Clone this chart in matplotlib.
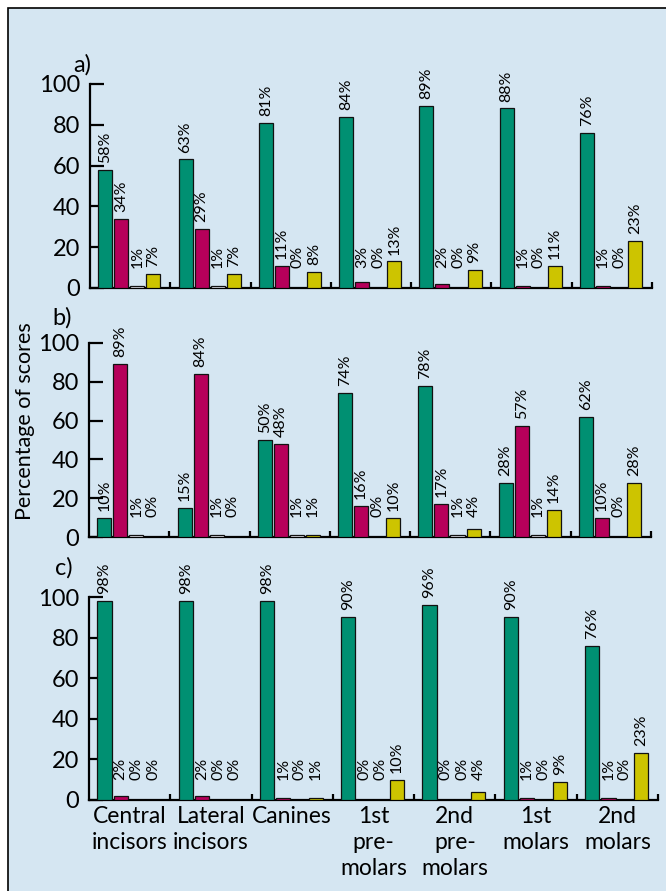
import matplotlib
matplotlib.use("Agg")
import matplotlib.pyplot as plt
from matplotlib.patches import Rectangle
import numpy as np

plt.rcParams['font.family'] = ['Lato', 'DejaVu Sans']

categories = ["Central\nincisors", "Lateral\nincisors", "Canines", "1st\npre-\nmolars",
              "2nd\npre-\nmolars", "1st\nmolars", "2nd\nmolars"]
panel_names = ["a)", "b)", "c)"]

# a) green, magenta, white, yellow
a_green = [58, 63, 81, 84, 89, 88, 76]
a_magenta = [34, 29, 11, 3, 2, 1, 1]
a_white = [1, 1, 0, 0, 0, 0, 0]
a_yellow = [7, 7, 8, 13, 9, 11, 23]

b_green = [10, 15, 50, 74, 78, 28, 62]
b_magenta = [89, 84, 48, 16, 17, 57, 10]
b_white = [1, 1, 1, 0, 1, 1, 0]
b_yellow = [0, 0, 1, 10, 4, 14, 28]

c_green = [98, 98, 98, 90, 96, 90, 76]
c_magenta = [2, 2, 1, 0, 0, 1, 1]
c_white = [0, 0, 0, 0, 0, 0, 0]
c_yellow = [0, 0, 1, 10, 4, 9, 23]

panels = [
    [a_green, a_magenta, a_white, a_yellow],
    [b_green, b_magenta, b_white, b_yellow],
    [c_green, c_magenta, c_white, c_yellow],
]

colors = ["#009072", "#b6005a", "#e8e8f0", "#cdc400"]
bg = "#d5e6f2"

W, H = 666, 891
fig = plt.figure(figsize=(W / 100, H / 100), dpi=100)
fig.add_artist(Rectangle((8 / W, -0.01), 1.0, 1.01 - 8 / H, transform=fig.transFigure,
                         facecolor=bg, edgecolor="black", lw=1.2, zorder=-10))

# axes boxes in pixels: left, y of zero line, y of 100 line, right
boxes = [(90, 288, 84, 652), (89, 537, 343, 651), (89, 800, 597, 658)]
label_pos = [(73, 72), (52, 325), (55, 575)]

n = len(categories)
for p, (series, box) in enumerate(zip(panels, boxes)):
    left, y0, y100, right = box
    ax = fig.add_axes([left / W, (H - y0) / H, (right - left) / W, (y0 - y100) / H])
    ax.set_facecolor("none")
    for j, vals in enumerate(series):
        xs = np.arange(n) + 0.19 + 0.2 * j
        ax.bar(xs, vals, width=0.175, color=colors[j], edgecolor="#111111", lw=0.9, zorder=3)
        for x, v in zip(xs, vals):
            ax.annotate(f"{v}%", (x, max(v, 6.5)), xytext=(0, 5), textcoords="offset points",
                        rotation=90, ha="center", va="bottom", fontsize=11.5,
                        annotation_clip=False)
    ax.set_xlim(0, n)
    ax.set_ylim(0, 100)
    for s in ["top", "right"]:
        ax.spines[s].set_visible(False)
    for s in ["left", "bottom"]:
        ax.spines[s].set_linewidth(1.6)
    ax.set_yticks([0, 20, 40, 60, 80, 100])
    ax.tick_params(axis="y", direction="in", length=10, width=1.6, labelsize=17, pad=7)
    ax.set_xticks(np.arange(n) + 0.5)
    if p == 2:
        ax.set_xticklabels(categories, fontsize=16.5, linespacing=1.3)
    else:
        ax.set_xticklabels([])
    ax.tick_params(axis="x", length=0, pad=4)
    ax.set_xticks(np.arange(1, n + 1), minor=True)
    ax.tick_params(axis="x", which="minor", direction="in", length=4, width=1.6)
    fig.text(label_pos[p][0] / W, 1 - label_pos[p][1] / H, panel_names[p],
             fontsize=17, ha="left", va="baseline")

fig.text(25 / W, 1 - 421 / H, "Percentage of scores", rotation=90, fontsize=15.5,
         ha="center", va="center")

fig.savefig("out.png", dpi=100)
